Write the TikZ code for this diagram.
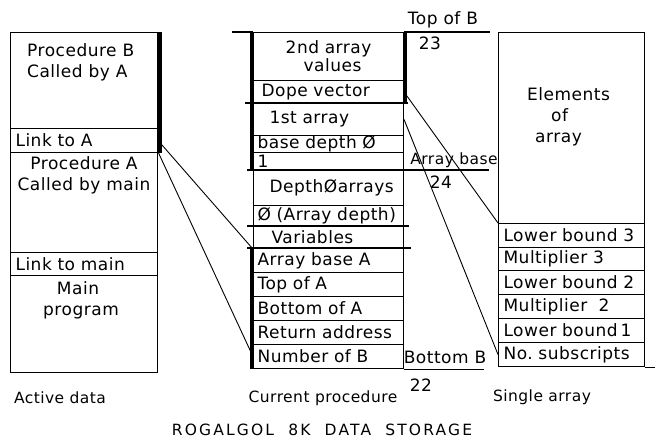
\documentclass[tikz,border=0pt]{standalone}
\usepackage{fontspec}
\usepackage{tikz}
\usetikzlibrary{positioning}
\newfontfamily\labfont[LetterSpace=3]{DejaVu Sans}
\newcommand{\labsize}{\labfont\fontsize{17}{21}\selectfont}
\newcommand{\capsize}{\labfont\fontsize{15.5}{18}\selectfont}

\begin{document}
\begin{tikzpicture}[x=1pt,y=-1pt,
    cell/.style={draw,line width=1.1pt,anchor=north west,inner sep=0pt,inner xsep=5pt,align=left,font=\labsize,
      execute at begin node={\hyphenpenalty=10000\exhyphenpenalty=10000}},
    leftcell/.style={cell,text width=137pt,minimum height=#1},
    midcell/.style={cell,inner xsep=4pt,text width=142pt,minimum height=#1},
    rightcell/.style={cell,text width=136pt,minimum height=#1},
    txt/.style={inner sep=0pt,font=\labsize},
    caption/.style={inner sep=0pt,font=\capsize},
    bar/.style={line width=4.5pt},
    rule/.style={line width=1.1pt},
    link/.style={line width=0.9pt}]
    \useasboundingbox (0,0) rectangle (656,441);

    \node[leftcell=96pt] (procB) at (10,32) {};
    \node[leftcell=24pt] (linkA) at (10,128) {Link to A};
    \node[leftcell=100pt] (procA) at (10,152) {};
    \node[leftcell=23pt] (linkmain) at (10,252) {Link to main};
    \node[leftcell=97pt] (mainprog) at (10,275) {};
    \node[txt,align=left,anchor=west] (tprocB) at (27,62) {Procedure B\\Called by A};
    \node[txt,align=center] (tprocA) at (84,175) {Procedure A\\Called by main};
    \node[txt,align=center] (tmain) at (78,300) {Main\\\hspace*{6pt}program};

    \node[midcell=48pt,align=center] (secarr) at (253,32) {2nd array\\[-3pt]\hspace*{8pt}values};
    \node[midcell=23pt] (dope) at (253,80) {\hspace*{4pt}Dope vector};
    \node[midcell=32pt] (first) at (253,103) {\hspace*{12pt}1st array};
    \node[midcell=17pt,text height=12pt,text depth=4pt] (basedep) at (253,135) {base depth Ø};
    \node[midcell=18pt] (one) at (253,152) {1};
    \node[midcell=35pt] (deptharr) at (253,170) {\hspace*{12pt}DepthØarrays};
    \node[midcell=21pt] (arrdep) at (253,205) {Ø~(Array~depth)};
    \node[midcell=22pt] (vars) at (253,226) {\hspace*{14pt}Variables};
    \node[midcell=24pt] (abaseA) at (253,248) {Array base A};
    \node[midcell=24pt] (topA) at (253,272) {Top of A};
    \node[midcell=24pt] (botA) at (253,296) {Bottom of A};
    \node[midcell=24pt] (retaddr) at (253,320) {Return~address};
    \node[midcell=24pt] (numB) at (253,344) {Number of B};

    \node[rightcell=191pt] (elems) at (498,32) {};
    \node[txt,align=left,anchor=west] (telems) at (527,117) {Elements\\\hspace*{24pt}of\\\hspace*{8pt}array};
    \node[rightcell=24pt] (lb3) at (498,223) {Lower~bound~3};
    \node[rightcell=23pt] (mul3) at (498,247) {Multiplier~3};
    \node[rightcell=24pt] (lb2) at (498,270) {Lower~bound~2};
    \node[rightcell=24pt] (mul2) at (498,294) {Multiplier~~2};
    \node[rightcell=24pt] (lb1) at (498,318) {Lower~bound\,1};
    \node[rightcell=24pt] (nosub) at (498,342) {No.~subscripts};

    \draw[bar] ([xshift=1.5pt]procB.north east) -- ([xshift=1.5pt]linkA.south east);
    \draw[bar] ([xshift=-1pt]secarr.north west) -- ([xshift=-1pt]one.south west);
    \draw[bar] ([xshift=-1pt]abaseA.north west) -- ([xshift=-1pt]numB.south west);
    \draw[bar] ([xshift=1pt]secarr.north east) -- ([xshift=1pt]dope.south east);

    \draw[rule] ([xshift=-21pt]secarr.north west) -- (secarr.north west);
    \draw[rule] ([xshift=-8pt]first.north west) -- ([xshift=4pt]first.north east);
    \draw[rule] ([xshift=-6pt]deptharr.north west) -- ([xshift=85pt]deptharr.north east);
    \draw[rule] ([xshift=-6pt]vars.north west) -- ([xshift=5pt]vars.north east);
    \draw[rule] ([xshift=-6pt]abaseA.north west) -- ([xshift=7pt]abaseA.north east);
    \draw[rule] (secarr.north east) -- ([xshift=-8pt]elems.north west);
    \draw[rule] (numB.south east) -- ([xshift=80pt]numB.south east);
    \draw[rule] (nosub.south east) -- ([xshift=10pt]nosub.south east);

    \draw[link] (linkA.east) -- (vars.south west);
    \draw[link] (procA.north east) -- (numB.west);
    \draw[link] (dope.east) -- (lb3.north west);
    \draw[link] (first.east) -- (nosub.west);

    \node[txt] (topB) at (443,20) {Top of B};
    \node[txt] (n23) at (430,43) {23};
    \node[caption] (abase) at (454,160) {Array base};
    \node[txt] (n24) at (441,182) {24};
    \node[txt] (botB) at (445,357) {Bottom B};
    \node[txt] (n22) at (421,385) {22};
    \node[caption] (active) at (60,398) {Active data};
    \node[caption] (current) at (323,398) {Current procedure};
    \node[caption] (single) at (542,397) {Single array};
    \node[caption,font={\capsize\addfontfeature{LetterSpace=14}}] (title) at (322,430) {ROGALGOL\ \ 8K\ \ DATA\ \ STORAGE};
\end{tikzpicture}
\end{document}
